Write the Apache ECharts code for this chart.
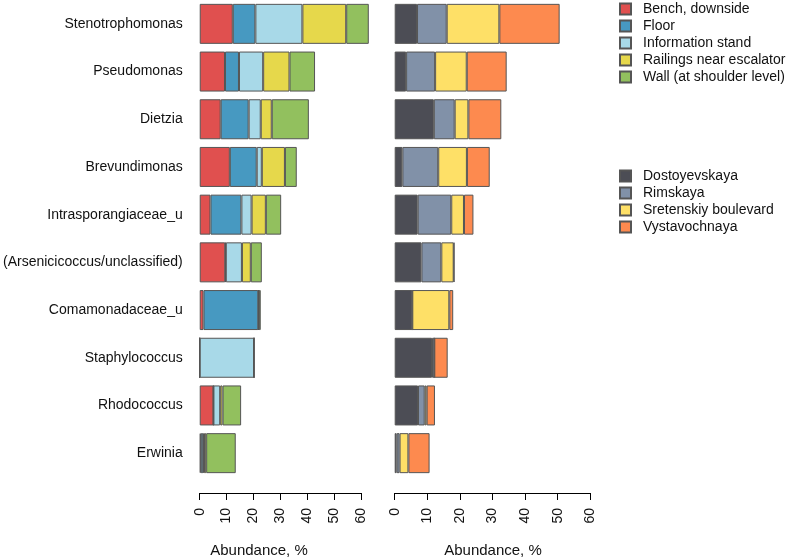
<!DOCTYPE html>
<html>
<head>
<meta charset="utf-8">
<script src="https://cdn.jsdelivr.net/npm/echarts@6/dist/echarts.min.js"></script>
<style>html,body{margin:0;padding:0;background:#fff;}#c{width:787px;height:560px;}</style>
</head>
<body>
<div id="c"></div>
<script>
var categories = ["Stenotrophomonas","Pseudomonas","Dietzia","Brevundimonas","Intrasporangiaceae_u","(Arsenicicoccus/unclassified)","Comamonadaceae_u","Staphylococcus","Rhodococcus","Erwinia"];
var siteNames = ["Bench, downside","Floor","Information stand","Railings near escalator","Wall (at shoulder level)"];
var benchDownside = [12.3, 9.4, 7.8, 11.2, 4.0, 9.5, 1.4, 0, 5.1, 0.4];
var floorVals     = [8.4, 5.2, 10.4, 10.0, 11.5, 0.2, 20.4, 0, 0, 0.9];
var infoStand     = [17.5, 9.0, 4.5, 1.9, 3.8, 6.0, 0.1, 20.2, 2.5, 0.3];
var railings      = [16.3, 9.8, 4.1, 8.6, 5.3, 3.3, 0.1, 0, 0.9, 0.8];
var wallShoulder  = [8.4, 9.5, 13.8, 4.4, 5.7, 4.1, 0.7, 0, 6.9, 11.0];
var stationNames = ["Dostoyevskaya","Rimskaya","Sretenskiy boulevard","Vystavochnaya"];
var dostoyevskaya = [6.85, 3.5, 12.0, 2.35, 7.05, 8.2, 5.4, 11.45, 7.15, 0.6];
var rimskaya      = [9.1, 8.9, 6.4, 11.0, 10.3, 6.1, 0, 0.7, 2.05, 0.9];
var sretenskiy    = [16.15, 9.7, 4.2, 8.8, 3.9, 3.8, 11.35, 0, 0.6, 2.7];
var vystavochnaya = [18.5, 12.25, 10.1, 7.0, 2.9, 0.2, 1.2, 4.1, 2.55, 6.5];
var xTicks = [0, 10, 20, 30, 40, 50, 60];
var axisTitle = "Abundance, %";

var siteData = [benchDownside, floorVals, infoStand, railings, wallShoulder];
var siteColors = ["#E0504F","#4799C1","#A8D9E8","#E6D84B","#92C05E"];
var stationData = [dostoyevskaya, rimskaya, sretenskiy, vystavochnaya];
var stationColors = ["#4C4D55","#8191A8","#FEE067","#FD8A4F"];

var chart = echarts.init(document.getElementById('c'), null, {renderer:'canvas'});
var font = 'Liberation Sans, Arial, sans-serif';
function xAxisDef(gi){
  return {
    type:'value', gridIndex:gi, min:xTicks[0], max:xTicks[xTicks.length-1], interval:10,
    position:'bottom', offset:16,
    axisLine:{show:true, lineStyle:{color:'#000', width:1}},
    axisTick:{show:true, length:7, lineStyle:{color:'#000', width:1}},
    axisLabel:{rotate:90, margin:15, fontSize:14, color:'#111', fontFamily:font},
    splitLine:{show:false}
  };
}
function yAxisDef(gi, showLabel){
  return {
    type:'category', gridIndex:gi, data:categories, inverse:true,
    axisLine:{show:false}, axisTick:{show:false},
    axisLabel:{show:showLabel, margin:17, fontSize:14, color:'#111', fontFamily:font}
  };
}
var series = [];
siteData.forEach(function(d,i){
  series.push({type:'bar', name:siteNames[i], stack:'site', xAxisIndex:0, yAxisIndex:0, data:d,
    barWidth:40, clip:false,
    itemStyle:{color:siteColors[i], borderColor:'#555', borderWidth:1}});
});
stationData.forEach(function(d,i){
  series.push({type:'bar', name:stationNames[i], stack:'station', xAxisIndex:1, yAxisIndex:1, data:d,
    barWidth:40, clip:false,
    itemStyle:{color:stationColors[i], borderColor:'#555', borderWidth:1}});
});
var legendBase = {
  orient:'vertical', left:619, icon:'rect', itemWidth:11, itemHeight:11, itemGap:3,
  padding:0, selectedMode:false,
  textStyle:{fontSize:14, color:'#111', fontFamily:font, padding:[0,0,0,7]}
};
chart.setOption({
  animation:false,
  backgroundColor:'#fff',
  grid:[
    {left:199, width:162, top:-3, height:480},
    {left:394.7, width:195.6, top:-3, height:480}
  ],
  xAxis:[xAxisDef(0), xAxisDef(1)],
  yAxis:[yAxisDef(0,true), yAxisDef(1,false)],
  legend:[
    Object.assign({}, legendBase, {top:2, data:siteNames}),
    Object.assign({}, legendBase, {top:169, data:stationNames})
  ],
  graphic:[
    {type:'text', x:259, y:551, style:{text:axisTitle, fontSize:15, fill:'#111', fontFamily:font, align:'center', verticalAlign:'middle'}},
    {type:'text', x:493, y:551, style:{text:axisTitle, fontSize:15, fill:'#111', fontFamily:font, align:'center', verticalAlign:'middle'}}
  ],
  series:series
});
</script>
</body>
</html>
